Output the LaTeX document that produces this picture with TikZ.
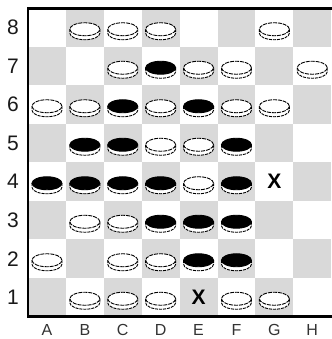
\documentclass[tikz,border=0pt]{standalone}
\usepackage{fontspec}
\setmainfont{Liberation Sans}
\usetikzlibrary{positioning}

\begin{document}
\begin{tikzpicture}[x=1pt, y=1pt]
        % --- 1. Parameters ---
        \def\sqW{37.9}
        \def\sqH{38.5}
        \tikzset{
            sqgray/.style={fill=black!15},
            rimline/.style={line width=0.9pt, dash pattern=on 3pt off 1pt, fill=white},
            topline/.style={line width=0.9pt, dash pattern=on 4pt off 1pt},
            rankLabel/.style={font=\fontsize{21}{23}\selectfont, text=black!90},
            fileLabel/.style={font=\fontsize{16}{18}\selectfont, text=black!80, inner sep=1pt},
            crossMark/.style={font=\fontsize{21}{23}\selectfont\bfseries}
        }
        \useasboundingbox (0,0) rectangle (331,339);

        \begin{scope}[shift={(28,22.5)}, x=\sqW pt, y=\sqH pt]
        % --- 2. Squares ---
        \foreach \i in {0,...,7}
            \foreach \j in {0,...,7} {
                \pgfmathtruncatemacro\parity{mod(\i+\j,2)}
                \ifnum\parity=0
                    \fill[sqgray] (\i,\j) rectangle ++(1,1);
                \fi
            }

        % --- 3. Board edges (left, top, bottom only) ---
        \draw[line width=2.5pt] (8.1,8) -- (0,8) -- (0,0) -- (8.1,0);

        % --- 4. White men ---
        \foreach \c/\r in {2/8,3/8,4/8,7/8, 3/7,5/7,6/7,8/7,
                           1/6,2/6,4/6,6/6,7/6, 4/5,5/5, 5/4,
                           2/3,3/3, 1/2,3/2,4/2, 2/1,3/1,4/1,6/1,7/1} {
            \begin{scope}[shift={(\c-0.5,\r-0.5)}]
                \draw[rimline] (-15pt,-1.5pt) -- (-15pt,-5.5pt)
                    arc (180:360:15pt and 6.5pt) -- (15pt,-1.5pt);
                \draw[topline, fill=white] (0pt,-1.5pt) ellipse (15pt and 6.5pt);
            \end{scope}
        }

        % --- 5. Black men ---
        \foreach \c/\r in {4/7, 3/6,5/6, 2/5,3/5,6/5,
                           1/4,2/4,3/4,4/4,6/4, 4/3,5/3,6/3, 5/2,6/2} {
            \begin{scope}[shift={(\c-0.5,\r-0.5)}]
                \draw[rimline] (-15pt,-1.5pt) -- (-15pt,-5.5pt)
                    arc (180:360:15pt and 6.5pt) -- (15pt,-1.5pt);
                \draw[line width=0.9pt, fill=black] (0pt,-1.5pt) ellipse (15pt and 6.5pt);
            \end{scope}
        }

        % --- 6. Crosses ---
        \node[crossMark] (xE1) at (4.5,0.5) {X};
        \node[crossMark] (xG4) at (6.5,3.5) {X};

        % --- 7. Ranks and files ---
        \foreach \r in {1,...,8}
            \node[rankLabel] (r\r) at (-0.4,\r-0.5) {\r};
        \foreach \f [count=\k] in {A,B,C,D,E,F,G,H}
            \node[fileLabel] (f\f) at (\k-0.5,-0.36) {\f};
        \end{scope}
\end{tikzpicture}
\end{document}
